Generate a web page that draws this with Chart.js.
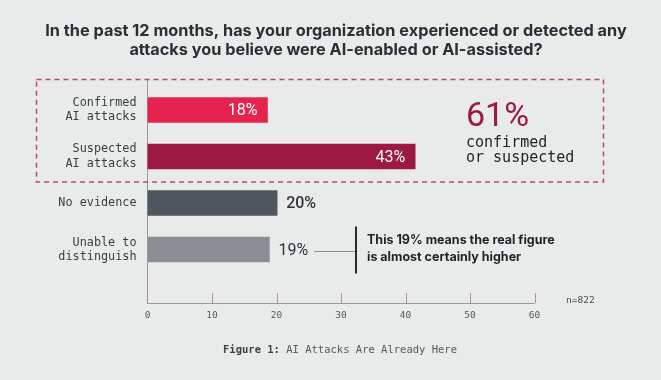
<!DOCTYPE html>
<html>
<head>
<meta charset="utf-8">
<script src="https://cdn.jsdelivr.net/npm/chart.js@4.4.1/dist/chart.umd.min.js"></script>
<style>
  html, body { margin: 0; padding: 0; background: #e9eaea; }
  #wrap { width: 661px; height: 380px; position: relative; }
</style>
</head>
<body>
<div id="wrap"><canvas id="aiChart"></canvas></div>
<script>
const titleLines = ['In the past 12 months, has your organization experienced or detected any',
    'attacks you believe were AI-enabled or AI-assisted?'];
const categories = [['Confirmed', 'AI attacks'], ['Suspected', 'AI attacks'], 'No evidence', ['Unable to', 'distinguish']];
const barValues = [18.6, 41.5, 20.1, 18.9];
const valueLabels = ['18%', '43%', '20%', '19%'];
const barColors = ['#e5234f', '#9c1a42', '#4f5660', '#8b8f95'];
const xTicks = [0, 10, 20, 30, 40, 50, 60];
const totalLabel = '61%';
const totalSub = ['confirmed', 'or suspected'];
const noteLines = ['This 19% means the real figure', 'is almost certainly higher'];
const sampleLabel = 'n=822';
const captionBold = 'Figure 1: ';
const captionText = 'AI Attacks Are Already Here';

const mono = '"DejaVu Sans Mono", monospace';
const sans = 'Inter, "Noto Sans", sans-serif';

// everything drawn around the bars: title, dashed box, labels, note, caption
const extras = {
    id: 'extras',
    beforeDraw(chart) {
        const { ctx } = chart;
        ctx.save();
        ctx.fillStyle = '#e9eaea';
        ctx.fillRect(0, 0, chart.width, chart.height);
        ctx.restore();
    },
    afterDraw(chart) {
        const { ctx, chartArea } = chart;
        const x = chart.scales.x;
        const y = chart.scales.y;
        ctx.save();

        // title
        ctx.fillStyle = '#2a2e35';
        ctx.font = 'bold 16.3px ' + sans;
        ctx.textAlign = 'center';
        ctx.textBaseline = 'middle';
        ctx.fillText(titleLines[0], 336, 31);
        ctx.fillText(titleLines[1], 336, 50);

        // dashed box round the AI rows
        const boxTop = chartArea.top - 0.5;
        const boxBottom = y.getPixelForValue(1.55);
        ctx.strokeStyle = '#c2456d';
        ctx.lineWidth = 1.5;
        ctx.setLineDash([5, 4]);
        ctx.strokeRect(36.5, boxTop, x.getPixelForValue(60) + 69 - 36.5, boxBottom - boxTop);
        ctx.setLineDash([]);

        // small upward ticks on the x axis
        ctx.strokeStyle = '#9a9a9a';
        ctx.lineWidth = 1;
        xTicks.slice(1).forEach(v => {
            const px = Math.round(x.getPixelForValue(v)) + 0.5;
            ctx.beginPath();
            ctx.moveTo(px, chartArea.bottom - 10);
            ctx.lineTo(px, chartArea.bottom);
            ctx.stroke();
        });

        // bar value labels
        const meta = chart.getDatasetMeta(0);
        meta.data.forEach((bar, i) => {
            ctx.textBaseline = 'middle';
            if (i < 2) {
                ctx.fillStyle = '#ffffff';
                ctx.font = '400 16px Roboto, sans-serif';
                ctx.textAlign = 'right';
                ctx.fillText(valueLabels[i], bar.x - 10, bar.y + 1);
            } else {
                ctx.fillStyle = '#2f343c';
                ctx.font = (i === 2 ? '500 ' : '400 ') + '16px Roboto, sans-serif';
                ctx.textAlign = 'left';
                ctx.fillText(valueLabels[i], bar.x + 9, bar.y + 1);
            }
        });

        // note connected to the last bar
        const last = meta.data[3];
        ctx.font = '400 16px Roboto, sans-serif';
        const lblEnd = last.x + 9 + ctx.measureText(valueLabels[3]).width;
        const noteX = 356;
        ctx.strokeStyle = '#8a8e94';
        ctx.lineWidth = 1.2;
        ctx.beginPath();
        ctx.moveTo(lblEnd + 6, last.y + 2);
        ctx.lineTo(noteX, last.y + 2);
        ctx.stroke();
        ctx.strokeStyle = '#262b33';
        ctx.lineWidth = 2;
        ctx.beginPath();
        ctx.moveTo(noteX, last.y - 23);
        ctx.lineTo(noteX, last.y + 24);
        ctx.stroke();
        ctx.fillStyle = '#1d2128';
        ctx.font = 'bold 12.5px ' + sans;
        ctx.textAlign = 'left';
        ctx.fillText(noteLines[0], noteX + 11, last.y - 9);
        ctx.fillText(noteLines[1], noteX + 11, last.y + 8);

        // 61% callout
        ctx.fillStyle = '#9c1a42';
        ctx.font = '400 34px Roboto, sans-serif';
        ctx.textBaseline = 'alphabetic';
        ctx.fillText(totalLabel, 466, 126);
        ctx.fillStyle = '#222428';
        ctx.font = '15px ' + mono;
        ctx.fillText(totalSub[0], 466, 147);
        ctx.fillText(totalSub[1], 466, 161.5);

        // sample size
        ctx.fillStyle = '#4a4d52';
        ctx.font = '9.5px ' + mono;
        ctx.textBaseline = 'middle';
        ctx.fillText(sampleLabel, 566, 301);

        // caption
        ctx.font = 'bold 10.5px ' + mono;
        const wb = ctx.measureText(captionBold).width;
        ctx.font = '10.5px ' + mono;
        const wt = ctx.measureText(captionText).width;
        const cx = 340 - (wb + wt) / 2;
        ctx.fillStyle = '#3c3f44';
        ctx.font = 'bold 10.5px ' + mono;
        ctx.fillText(captionBold, cx, 350);
        ctx.fillStyle = '#55585d';
        ctx.font = '10.5px ' + mono;
        ctx.fillText(captionText, cx + wb, 350);

        ctx.restore();
    }
};

const aiChart = new Chart(document.getElementById('aiChart'), {
    type: 'bar',
    data: {
        datasets: [{
            data: barValues.map((v, i) => ({ x: v, y: i })),
            backgroundColor: barColors,
            barThickness: 25,
            borderWidth: 0
        }]
    },
    options: {
        indexAxis: 'y',
        responsive: true,
        maintainAspectRatio: false,
        animation: false,
        layout: {
            padding: { top: 80, right: 126.5, bottom: 55, left: 0 }
        },
        scales: {
            x: {
                type: 'linear',
                min: 0,
                max: 60,
                afterFit: (scale) => { scale.height = 22; },
                afterBuildTicks: (scale) => { scale.ticks = xTicks.map(v => ({ value: v })); },
                grid: { display: false, drawTicks: false },
                border: { display: true, color: '#9a9a9a', width: 1 },
                ticks: {
                    padding: 7,
                    color: '#55585d',
                    font: { family: mono, size: 9.5 }
                }
            },
            y: {
                type: 'linear',
                reverse: true,
                offset: false,
                bounds: 'data',
                min: -0.645,
                max: 4.15,
                afterFit: (scale) => { scale.width = 147.5; },
                afterBuildTicks: (scale) => { scale.ticks = categories.map((_, i) => ({ value: i })); },
                grid: { display: false, drawTicks: false },
                border: { display: true, color: '#9a9a9a', width: 1 },
                ticks: {
                    padding: 11,
                    color: '#3b3d41',
                    font: { family: mono, size: 11.8, lineHeight: 1.2 },
                    callback: (v) => categories[v]
                }
            }
        },
        plugins: {
            legend: { display: false },
            tooltip: { enabled: false }
        }
    },
    plugins: [extras]
});
</script>
</body>
</html>
